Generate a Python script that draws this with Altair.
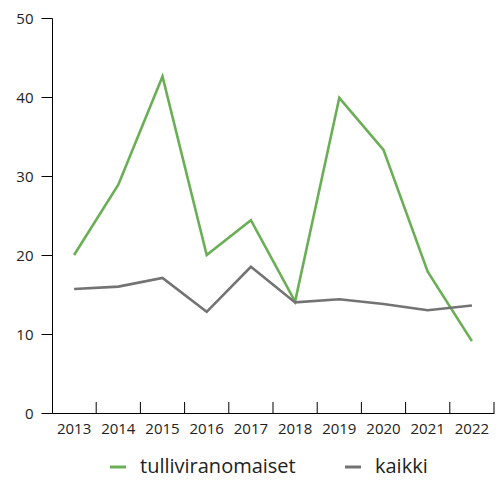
import altair as alt
import pandas as pd

years = ["2013", "2014", "2015", "2016", "2017", "2018", "2019", "2020", "2021", "2022"]
tulli = [20.0, 28.9, 42.6, 20.0, 24.4, 14.1, 39.9, 33.3, 17.9, 9.1]
kaikki = [15.7, 16.0, 17.1, 12.8, 18.5, 14.0, 14.4, 13.8, 13.0, 13.6]
series = ["tulliviranomaiset", "kaikki"]
colors = ["#6aaf55", "#737373"]
y_ticks = [0, 10, 20, 30, 40, 50]

df = pd.DataFrame({
    "year": years * 2,
    "value": tulli + kaikki,
    "series": [series[0]] * len(years) + [series[1]] * len(years),
})
tick_df = pd.DataFrame({"year": years})

W, H = 442, 395
FONT = "Open Sans"
xscale = alt.Scale(type="band", paddingInner=0, paddingOuter=0, domain=years)

lines = alt.Chart(df).mark_line(strokeWidth=2.6).encode(
    x=alt.X("year:O", bandPosition=0.5, scale=xscale,
            axis=alt.Axis(title=None, labelAngle=0, ticks=False, domainColor="#000",
                          labelPadding=8, labelFontSize=15, labelColor="#222",
                          labelFont=FONT)),
    y=alt.Y("value:Q", scale=alt.Scale(domain=[0, 50]),
            axis=alt.Axis(title=None, values=y_ticks, tickSize=11, grid=False,
                          labelPadding=8, labelFontSize=15, labelColor="#222",
                          labelFont=FONT, domainColor="#000", tickColor="#000")),
    color=alt.Color("series:N", sort=series,
                    scale=alt.Scale(domain=series, range=colors),
                    legend=alt.Legend(title=None, orient="none", legendX=56, legendY=439,
                                      direction="horizontal", columns=2,
                                      symbolType="stroke", symbolStrokeWidth=3,
                                      symbolSize=256, labelFontSize=20,
                                      labelFont=FONT, labelColor="#222",
                                      labelOffset=12, columnPadding=43, padding=0)),
)

ticks = alt.Chart(tick_df).mark_rule(color="#000", strokeWidth=1).encode(
    x=alt.X("year:O", bandPosition=1, scale=xscale),
    y=alt.value(H - 11),
    y2=alt.value(H),
)

chart = alt.layer(lines, ticks).properties(
    width=W, height=H,
    padding={"left": 7, "top": 3, "right": 0, "bottom": 4},
).configure_view(stroke=None)

chart.save("out.html", embed_options={"renderer": "svg", "actions": False})
